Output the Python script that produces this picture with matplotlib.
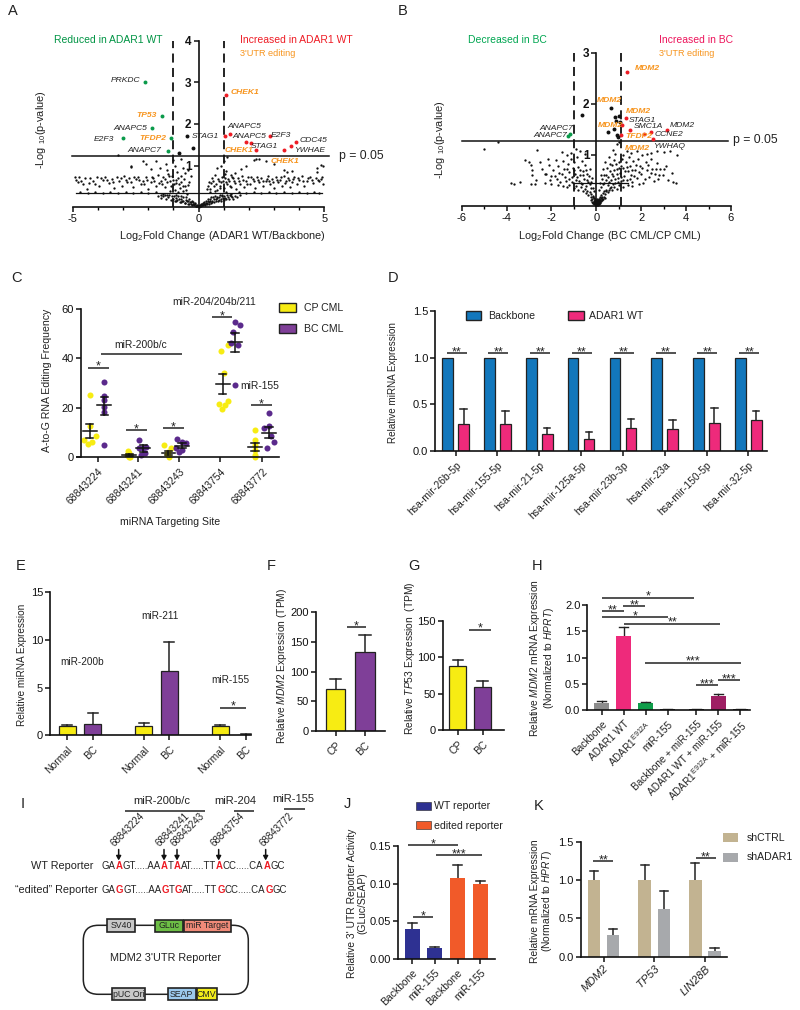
import matplotlib
matplotlib.use("Agg")
import matplotlib.pyplot as plt
from matplotlib.patches import Rectangle, FancyBboxPatch
import numpy as np

plt.rcParams['font.family'] = ['Liberation Sans', 'DejaVu Sans']
plt.rcParams['mathtext.fontset'] = 'custom'
plt.rcParams['mathtext.rm'] = 'Liberation Sans'
plt.rcParams['mathtext.it'] = 'Liberation Sans:italic'
plt.rcParams['mathtext.bf'] = 'Liberation Sans:bold'
plt.rcParams['mathtext.default'] = 'regular'
plt.rcParams['axes.unicode_minus'] = False

W, H = 800, 1010
TXT = '#222222'

# ---------- data ----------
a_green = [(-2.12, 3.0), (-1.46, 2.19), (-1.85, 1.9), (-3.02, 1.66), (-1.09, 1.66), (-1.23, 1.35)]
a_red = [(1.1, 2.7), (1.05, 1.72), (1.25, 1.76), (1.88, 1.57), (2.1, 1.55), (2.28, 1.37), (2.85, 1.72),
         (3.39, 1.38), (3.68, 1.46), (3.89, 1.56)]
a_black = [(-0.44, 1.7), (-0.2, 1.42), (-0.79, 1.31)]
a_cloud = [
    (-3.18, 1.25), (-2.7, 1.0), (-2.69, 0.96), (-2.2, 1.12), (-2.1, 1.03), (-1.9, 0.92), (-1.7, 1.1), (-1.55, 0.95),
    (-1.3, 1.05), (-1.25, 0.9), (-1.0, 1.13), (-0.95, 0.98), (-0.85, 0.85), (-0.7, 1.15), (-0.6, 0.95), (-0.55, 0.82),
    (-0.4, 0.9), (-0.3, 0.75), (0.75, 0.95), (0.9, 1.0), (1.0, 1.1), (1.1, 0.88), (1.15, 1.2), (1.05, 0.8), (1.3, 0.78),
    (1.45, 0.82), (1.7, 0.93), (1.9, 1.0), (2.2, 1.14), (2.3, 1.17), (2.4, 1.15), (2.7, 1.1), (3.0, 1.05), (3.4, 0.9),
    (3.5, 0.85), (3.7, 0.88), (4.7, 0.95), (4.85, 1.02), (4.95, 1.0), (4.7, 0.85),
    (-4.9, 0.72), (-4.8, 0.6), (-4.75, 0.72), (-4.6, 0.55), (-4.45, 0.45), (-4.3, 0.7), (-4.2, 0.62), (-4.05, 0.72),
    (-3.95, 0.5), (-3.8, 0.66), (-3.7, 0.73), (-3.55, 0.58), (-3.45, 0.68), (-3.35, 0.46), (-3.25, 0.72), (-3.15, 0.62),
    (-3.05, 0.52), (-2.95, 0.74), (-2.85, 0.6), (-2.75, 0.7), (-2.6, 0.48), (-2.5, 0.67), (-2.4, 0.73), (-2.3, 0.57),
    (-2.2, 0.64), (-2.1, 0.72), (-2.0, 0.45), (-1.9, 0.6), (-1.8, 0.7), (-1.7, 0.52), (-1.62, 0.78), (-1.5, 0.64),
    (-1.42, 0.72), (-1.35, 0.48), (-1.25, 0.6), (-1.18, 0.75), (-1.1, 0.52), (-1.02, 0.66), (-0.95, 0.42), (-0.9, 0.58),
    (-0.82, 0.7), (-0.75, 0.46), (-0.68, 0.6), (-0.6, 0.38), (-0.52, 0.5), (-0.45, 0.32), (-0.38, 0.6), (0.32, 0.45),
    (0.4, 0.6), (0.46, 0.36), (0.52, 0.7), (0.6, 0.5), (0.66, 0.78), (0.72, 0.42), (0.8, 0.62), (0.86, 0.52),
    (0.94, 0.72), (1.02, 0.46), (1.1, 0.6), (1.16, 0.68), (1.24, 0.52), (1.32, 0.72), (1.4, 0.62), (1.48, 0.45),
    (1.56, 0.7), (1.65, 0.56), (1.72, 0.74), (1.8, 0.48), (1.88, 0.63), (1.96, 0.72), (2.05, 0.55), (2.15, 0.68),
    (2.25, 0.46), (2.32, 0.73), (2.42, 0.6), (2.5, 0.7), (2.58, 0.5), (2.68, 0.64), (2.76, 0.74), (2.85, 0.56),
    (2.92, 0.68), (3.0, 0.47), (3.08, 0.72), (3.16, 0.6), (3.25, 0.66), (3.32, 0.52), (3.4, 0.74), (3.48, 0.62),
    (3.56, 0.7), (3.65, 0.48), (3.72, 0.6), (3.8, 0.72), (3.9, 0.55), (4.0, 0.66), (4.1, 0.74), (4.2, 0.5),
    (4.3, 0.62), (4.42, 0.72), (4.55, 0.58), (4.68, 0.7), (4.8, 0.62), (4.92, 0.73), (4.95, 0.56),
    (-4.7, 0.36), (-4.4, 0.35), (-4.1, 0.37), (-3.8, 0.35), (-3.5, 0.36), (-3.2, 0.34), (-2.9, 0.37), (-2.6, 0.35),
    (-2.3, 0.36), (-2.0, 0.34), (-1.7, 0.37), (-1.4, 0.33), (-1.15, 0.38), (-0.9, 0.3), (-0.8, 0.36), (-0.7, 0.26),
    (1.1, 0.36), (1.3, 0.33), (1.6, 0.37), (1.9, 0.35), (2.2, 0.36), (2.5, 0.34), (2.8, 0.37), (3.1, 0.35),
    (3.4, 0.36), (3.7, 0.34), (4.0, 0.37), (4.3, 0.35), (4.6, 0.36), (4.8, 0.34),
    (-1.6, 0.27), (-1.5, 0.22), (-1.4, 0.26), (-1.3, 0.2), (-1.25, 0.29), (-1.2, 0.24), (-1.1, 0.18), (-1.05, 0.27),
    (-1.0, 0.21), (-0.95, 0.15), (-0.9, 0.23), (-0.85, 0.18), (-0.8, 0.28), (-0.75, 0.13), (-0.7, 0.2), (-0.65, 0.16),
    (-0.6, 0.24), (-0.55, 0.11), (-0.5, 0.18), (-0.45, 0.14), (-0.42, 0.09), (-0.38, 0.21), (-0.34, 0.12), (-0.3, 0.07),
    (-0.26, 0.16), (-0.22, 0.09), (-0.18, 0.05), (-0.14, 0.1), (-0.1, 0.04), (-0.06, 0.06), (-0.03, 0.02), (0.0, 0.01),
    (0.03, 0.03), (0.06, 0.05), (0.1, 0.03), (0.14, 0.08), (0.18, 0.06), (0.22, 0.12), (0.26, 0.08), (0.3, 0.14),
    (0.34, 0.1), (0.38, 0.2), (0.42, 0.12), (0.46, 0.16), (0.5, 0.24), (0.55, 0.13), (0.6, 0.19), (0.65, 0.28),
    (0.7, 0.15), (0.75, 0.22), (0.8, 0.17), (0.85, 0.3), (0.9, 0.2), (0.95, 0.26), (1.0, 0.18), (1.05, 0.23),
    (1.12, 0.29), (1.2, 0.21), (1.28, 0.26), (1.36, 0.2), (1.45, 0.28), (1.55, 0.24), (1.65, 0.3),
    (-4.85, 0.66), (-4.68, 0.64), (-4.52, 0.71), (-4.36, 0.58), (-4.12, 0.55), (-3.88, 0.71), (-3.62, 0.65), (-3.38, 0.6),
    (-3.1, 0.7), (-2.9, 0.66), (-2.68, 0.6), (-2.55, 0.72), (-2.35, 0.65), (-2.15, 0.55), (-2.05, 0.65), (-1.85, 0.73),
    (-1.75, 0.62), (-1.58, 0.58), (-1.45, 0.55), (-1.32, 0.68), (-1.22, 0.8), (-1.12, 0.64), (-1.05, 0.74), (-0.98, 0.55),
    (-0.88, 0.66), (-0.78, 0.55), (-0.7, 0.76), (-0.62, 0.52), (-0.56, 0.68), (-0.48, 0.42), (-0.42, 0.54), (0.36, 0.52),
    (0.44, 0.44), (0.5, 0.58), (0.56, 0.62), (0.64, 0.4), (0.7, 0.56), (0.76, 0.68), (0.84, 0.46), (0.9, 0.6),
    (0.98, 0.64), (1.06, 0.7), (1.14, 0.55), (1.22, 0.64), (1.3, 0.48), (1.38, 0.7), (1.46, 0.58), (1.6, 0.64),
    (1.76, 0.66), (1.92, 0.56), (2.1, 0.73), (2.2, 0.62), (2.38, 0.66), (2.55, 0.62), (2.72, 0.68), (2.82, 0.64),
    (2.96, 0.6), (3.12, 0.66), (3.28, 0.72), (3.44, 0.58), (3.6, 0.66), (3.76, 0.68), (3.95, 0.7), (4.15, 0.64),
    (4.35, 0.7), (4.5, 0.66), (4.74, 0.66), (4.88, 0.68),
    (-1.48, 0.3), (-1.35, 0.3), (-1.18, 0.3), (-0.98, 0.28), (-0.88, 0.14), (-0.78, 0.2), (-0.68, 0.12), (-0.62, 0.16),
    (-0.52, 0.1), (-0.48, 0.24), (-0.4, 0.16), (-0.36, 0.09), (-0.28, 0.12), (-0.24, 0.05), (-0.2, 0.12), (-0.16, 0.07),
    (-0.12, 0.07), (-0.08, 0.03), (-0.04, 0.04), (0.01, 0.03), (0.05, 0.02), (0.08, 0.07), (0.12, 0.05), (0.16, 0.1),
    (0.2, 0.09), (0.24, 0.05), (0.28, 0.11), (0.32, 0.07), (0.36, 0.14), (0.4, 0.09), (0.44, 0.2), (0.48, 0.11),
    (0.52, 0.16), (0.58, 0.25), (0.62, 0.13), (0.68, 0.19), (0.72, 0.25), (0.78, 0.14), (0.82, 0.24), (0.88, 0.16),
    (0.92, 0.29), (0.98, 0.22), (1.02, 0.28), (1.08, 0.19), (1.16, 0.25), (1.24, 0.3), (1.32, 0.24),
]

b_green = [(-1.19, 1.4), (-1.25, 1.37)]
b_red = [(1.38, 2.63), (1.34, 1.71), (1.16, 1.58), (1.52, 1.48), (2.42, 1.45), (3.16, 1.48), (2.53, 1.31),
         (1.11, 1.39), (2.12, 1.4)]
b_black = [(0.64, 1.92), (-0.65, 1.77), (0.82, 1.73), (1.0, 1.75), (0.79, 1.5), (0.53, 1.44), (0.91, 1.39),
           (0.95, 1.35), (1.05, 1.65), (0.89, 1.67)]
b_cloud = [
    (-5.0, 1.12), (-4.37, 1.24), (-2.63, 1.1), (-1.55, 1.05), (-1.3, 1.0), (-1.15, 1.03), (-0.9, 1.12), (-0.75, 1.08),
    (-0.5, 1.02), (0.75, 1.1), (0.85, 1.02), (0.9, 1.2), (1.0, 1.25), (1.2, 1.0), (1.35, 1.08), (1.55, 1.03),
    (1.8, 1.07), (2.05, 1.0), (2.25, 1.02), (2.45, 1.04), (2.7, 1.08), (3.0, 1.05), (3.3, 1.08), (3.6, 1.0),
    (-3.2, 0.89), (-3.0, 0.85), (-2.9, 0.8), (-2.85, 0.7), (-2.85, 0.6), (-2.7, 0.5), (-2.5, 0.85), (-2.4, 0.72),
    (-2.25, 0.62), (-2.15, 0.92), (-2.1, 0.8), (-2.05, 0.5), (-1.95, 0.7), (-1.85, 0.58), (-1.8, 0.9), (-1.7, 0.78),
    (-1.65, 0.64), (-1.6, 0.46), (-1.5, 0.88), (-1.45, 0.72), (-1.4, 0.56), (-1.35, 0.48), (-1.25, 0.82), (-1.2, 0.66),
    (-1.15, 0.92), (-1.1, 0.56), (-1.05, 0.74), (-1.0, 0.86), (-0.95, 0.62), (-0.9, 0.5), (-0.85, 0.96), (-0.8, 0.76),
    (-0.75, 0.6), (-0.7, 0.44), (-0.65, 0.88), (-0.6, 0.68), (-0.55, 0.52), (-0.5, 0.8), (-0.45, 0.38), (-0.4, 0.62),
    (-0.35, 0.46), (-0.3, 0.72), (-0.25, 0.34), (-0.2, 0.55), (0.2, 0.36), (0.25, 0.52), (0.3, 0.72), (0.35, 0.44),
    (0.4, 0.85), (0.45, 0.6), (0.5, 0.4), (0.55, 0.95), (0.6, 0.68), (0.65, 0.5), (0.7, 0.8), (0.75, 0.58),
    (0.8, 0.9), (0.85, 0.44), (0.9, 0.72), (0.95, 0.55), (1.0, 0.85), (1.05, 0.65), (1.1, 0.48), (1.15, 0.92),
    (1.2, 0.74), (1.25, 0.58), (1.3, 0.86), (1.35, 0.5), (1.4, 0.68), (1.45, 0.95), (1.5, 0.78), (1.55, 0.6),
    (1.6, 0.46), (1.65, 0.88), (1.7, 0.7), (1.8, 0.54), (1.85, 0.92), (1.95, 0.78), (2.0, 0.62), (2.1, 0.45),
    (2.2, 0.85), (2.25, 0.7), (2.35, 0.56), (2.45, 0.92), (2.5, 0.72), (2.6, 0.62), (2.7, 0.84), (2.75, 0.52),
    (2.85, 0.72), (2.95, 0.6), (3.1, 0.78), (3.2, 0.5), (3.35, 0.65), (3.4, 0.46), (3.55, 0.44),
    (-3.8, 0.45), (-3.65, 0.42), (-3.4, 0.47), (-2.9, 0.43), (-2.75, 0.43), (-2.3, 0.44), (-2.0, 0.42), (-1.7, 0.4),
    (-1.5, 0.38), (-1.3, 0.36), (-1.2, 0.41), (-1.0, 0.34), (-0.9, 0.39), (-0.8, 0.3), (-0.7, 0.36), (-0.6, 0.28),
    (-0.5, 0.33), (-0.45, 0.24), (-0.4, 0.29), (-0.35, 0.21), (-0.3, 0.26), (-0.25, 0.17), (-0.22, 0.23), (-0.18, 0.13),
    (-0.15, 0.19), (-0.12, 0.09), (-0.1, 0.15), (-0.07, 0.06), (-0.05, 0.11), (-0.02, 0.03), (0.0, 0.01), (0.0, 0.07),
    (0.02, 0.04), (0.05, 0.1), (0.07, 0.05), (0.1, 0.13), (0.12, 0.08), (0.15, 0.17), (0.18, 0.11), (0.2, 0.2),
    (0.25, 0.14), (0.28, 0.24), (0.32, 0.18), (0.35, 0.28), (0.4, 0.22), (0.45, 0.31), (0.5, 0.26), (0.6, 0.34),
    (0.7, 0.3), (0.8, 0.37), (0.9, 0.33), (1.0, 0.4), (1.2, 0.36), (1.4, 0.4), (1.6, 0.38), (1.9, 0.42),
    (-0.16, 0.05), (-0.11, 0.03), (-0.08, 0.12), (-0.04, 0.08), (-0.03, 0.05), (-0.01, 0.1), (0.01, 0.02), (0.03, 0.08),
    (0.04, 0.13), (0.06, 0.02), (0.08, 0.1), (0.09, 0.04), (0.11, 0.06), (0.13, 0.03), (0.16, 0.06), (0.22, 0.09),
    (-2.3, 0.62), (-2.0, 0.58), (-1.75, 0.52), (-1.55, 0.62), (-1.3, 0.72), (-1.22, 0.52), (-1.08, 0.46), (-0.98, 0.7),
    (-0.88, 0.56), (-0.78, 0.48), (-0.72, 0.7), (-0.62, 0.42), (-0.58, 0.6), (-0.48, 0.7), (-0.42, 0.5), (-0.32, 0.58),
    (-0.28, 0.42), (-0.22, 0.46), (-0.15, 0.34), (-0.1, 0.28), (0.1, 0.3), (0.15, 0.44), (0.22, 0.6), (0.28, 0.42),
    (0.34, 0.6), (0.42, 0.5), (0.48, 0.74), (0.52, 0.56), (0.58, 0.46), (0.62, 0.82), (0.68, 0.62), (0.72, 0.42),
    (0.78, 0.7), (0.82, 0.52), (0.88, 0.82), (0.92, 0.62), (0.98, 0.46), (1.02, 0.74), (1.08, 0.56), (1.12, 0.78),
    (1.18, 0.5), (1.28, 0.68), (1.38, 0.76), (1.48, 0.52), (1.58, 0.7), (1.68, 0.58), (1.78, 0.8), (1.9, 0.66),
    (2.05, 0.74), (2.15, 0.52), (2.3, 0.8), (2.42, 0.64), (2.55, 0.48), (2.65, 0.72), (2.8, 0.6), (3.0, 0.72),
    (-0.24, 0.12), (-0.2, 0.08), (-0.17, 0.17), (-0.14, 0.06), (-0.09, 0.08), (-0.06, 0.13), (-0.03, 0.02), (-0.01, 0.05),
    (0.02, 0.09), (0.04, 0.03), (0.05, 0.06), (0.07, 0.11), (0.1, 0.07), (0.13, 0.1), (0.14, 0.14), (0.17, 0.08),
    (0.19, 0.15), (0.24, 0.11), (0.27, 0.17), (0.3, 0.13), (0.38, 0.16), (0.42, 0.28), (0.55, 0.3), (0.65, 0.36),
]

c_cp_x = [[-0.2, -0.34, -0.24, -0.14, -0.04, -0.2],
          [0.74, 0.77, 0.77, 0.72, 0.79],
          [1.62, 1.78, 1.72, 1.74, 1.68],
          [3.0, 3.16, 3.06, 3.18, 2.94, 3.1, 3.02],
          [3.83, 3.83, 3.83, 3.83, 3.83, 3.83]]
c_cp_y = [[25.2, 7, 5.4, 6, 8.8, 12.8],
          [2.7, 1.6, 0.3, 1, 0],
          [4.9, 3.6, 2.3, 0.3, 1.3],
          [42.9, 45.4, 34, 22.8, 21.6, 21.2, 19.4],
          [11, 7, 3, 1, 0, 5]]
c_bc_x = [[0.16, 0.16, 0.16, 0.16, 0.16, 0.16],
          [1.0, 1.0, 1.18, 1.14, 1.06, 1.1],
          [1.92, 2.06, 2.14, 1.9, 1.98, 2.04],
          [3.34, 3.46, 3.28, 3.24, 3.4, 3.34],
          [4.17, 4.05, 4.17, 4.22, 4.28, 4.11]]
c_bc_y = [[30.3, 24.8, 23.2, 18.5, 5, 20.5],
          [7, 3.6, 4.3, 1.9, 1, 3.6],
          [7.3, 6.3, 5.7, 3.6, 2.3, 3],
          [54.7, 53.5, 50.5, 46.4, 45.3, 29.1],
          [18, 12, 12.8, 8.8, 6, 3.6]]
c_cp_mean = [10.6, 1.0, 1.6, 29.6, 4.0]
c_cp_hi = [13.3, 1.4, 2.5, 33.7, 5.7]
c_cp_lo = [8.0, 0.6, 0.9, 25.5, 2.6]
c_bc_mean = [21.0, 3.6, 4.6, 46.6, 10.0]
c_bc_hi = [24.5, 5.0, 5.6, 50.4, 12.4]
c_bc_lo = [17.0, 2.3, 3.6, 42.7, 8.0]
c_cp_center = [-0.2, 0.77, 1.72, 3.04, 3.83]
c_bc_center = [0.16, 1.11, 2.05, 3.34, 4.17]
c_tick_pos = [0, 0.98, 1.98, 2.98, 4.0]
c_sites = ['68843224', '68843241', '68843243', '68843754', '68843772']

d_labels = ['hsa-mir-26b-5p', 'hsa-mir-155-5p', 'hsa-mir-21-5p', 'hsa-mir-125a-5p', 'hsa-mir-23b-3p',
            'hsa-mir-23a', 'hsa-mir-150-5p', 'hsa-mir-32-5p']
d_backbone = [1, 1, 1, 1, 1, 1, 1, 1]
d_adar = [0.29, 0.295, 0.185, 0.135, 0.25, 0.235, 0.305, 0.335]
d_adar_top = [0.45, 0.43, 0.25, 0.21, 0.345, 0.33, 0.46, 0.435]

e_labels = ['Normal', 'BC', 'Normal', 'BC', 'Normal', 'BC']
e_pos = [1, 2, 4, 5, 7, 8]
e_vals = [1.0, 1.2, 1.0, 6.7, 1.0, 0.05]
e_tops = [1.1, 2.4, 1.3, 9.8, 1.06, 0.1]

f_vals = [71, 133]
f_tops = [87, 161]
g_vals = [88, 59]
g_tops = [97, 68]

h_labels = ['Backbone', 'ADAR1 WT', 'ADAR1$^{E912A}$', 'miR-155', 'Backbone + miR-155', 'ADAR1 WT + miR-155',
            'ADAR1$^{E912A}$ + miR-155']
h_pos = [0, 1, 2, 3, 4.3, 5.3, 6.3]
h_vals = [0.14, 1.41, 0.14, 0.01, 0.01, 0.27, 0.01]
h_tops = [0.18, 1.58, 0.155, 0.02, 0.02, 0.3, 0.02]
h_cols = ['#8C8C8C', '#EE2A7B', '#0F9D4A', '#222222', '#222222', '#9E1F63', '#222222']

j_labels = ['Backbone', 'miR-155', 'Backbone', 'miR-155']
j_vals = [0.039, 0.014, 0.107, 0.099]
j_tops = [0.047, 0.015, 0.125, 0.104]

k_labels = ['MDM2', 'TP53', 'LIN28B']
k_ctrl = [1, 1, 1]
k_ctrl_top = [1.12, 1.2, 1.23]
k_sh = [0.28, 0.62, 0.07]
k_sh_top = [0.36, 0.86, 0.11]

fig = plt.figure(figsize=(W / 100, H / 100), dpi=100)

def panel(l, t, r, b):
    ax = fig.add_axes([l / W, 1 - b / H, (r - l) / W, (b - t) / H])
    ax.patch.set_alpha(0)
    for s in ['top', 'right']:
        ax.spines[s].set_visible(False)
    for s in ['left', 'bottom']:
        ax.spines[s].set_linewidth(1.2)
        ax.spines[s].set_color('#111111')
    ax.tick_params(width=1.1, length=3.5, labelsize=8, pad=1.5, colors='#111111')
    return ax

def bars_with_err(ax, pos, vals, tops, cols, width):
    ax.bar(pos, vals, width=width, color=cols, edgecolor='#222222', linewidth=0.9, zorder=2)
    for p, v, t in zip(pos, vals, tops):
        ax.plot([p, p], [v, t], color='#222222', lw=1.1, zorder=1, clip_on=False)
        ax.plot([p - width * 0.3, p + width * 0.3], [t, t], color='#222222', lw=1.1, clip_on=False)

def rot_labels(ax, labels, size=7.5):
    ax.set_xticklabels(labels, rotation=45, ha='right', rotation_mode='anchor', fontsize=size, color=TXT)
    ax.tick_params(axis='x', pad=3)

# ---------- A ----------
ax = panel(72.7, 40.7, 324.3, 207.3)
ax.set_xlim(-5, 5)
ax.set_ylim(0, 4)
ax.spines['left'].set_position(('data', 0))
cx, cy = zip(*a_cloud)
ax.scatter(cx, cy, s=2.8, c='#111111', linewidths=0, clip_on=False)
for pts, col in [(a_green, '#0A9A4A'), (a_red, '#EE1C25'), (a_black, '#111111')]:
    px, py = zip(*pts)
    ax.scatter(px, py, s=8, c=col, linewidths=0, zorder=4)
ax.set_xticks([-5, 0, 5])
ax.set_xticks([-4, -3, -2, -1, 1, 2, 3, 4], minor=True)
ax.tick_params(axis='x', which='minor', width=1.0, length=2.5)
ax.set_yticks([1, 2, 3, 4])
ax.tick_params(axis='y', labelsize=8.5)
for lab in ax.get_yticklabels():
    lab.set_fontweight('bold')
ax.plot([-5.03, 5.2], [1.24, 1.24], color='#111111', lw=1.1, clip_on=False)
ax.plot([-4.85, 4.9], [0.35, 0.35], color='#111111', lw=0.9)
for x in [-1, 1]:
    ax.plot([x, x], [0, 4], color='#111111', lw=1.3, ls=(0, (5, 3)), clip_on=False)

# ---------- B ----------
ax = panel(461.7, 52.7, 731, 205.7)
ax.set_xlim(-6, 6)
ax.set_ylim(0, 3)
ax.spines['left'].set_position(('data', 0))
cx, cy = zip(*b_cloud)
ax.scatter(cx, cy, s=2.8, c='#111111', linewidths=0)
for pts, col in [(b_green, '#0A9A4A'), (b_red, '#EE1C25'), (b_black, '#111111')]:
    px, py = zip(*pts)
    ax.scatter(px, py, s=8, c=col, linewidths=0, zorder=4)
ax.set_xticks([-6, -4, -2, 0, 2, 4, 6])
ax.set_xticks([-5, -3, -1, 1, 3, 5], minor=True)
ax.tick_params(axis='x', which='minor', width=1.0, length=2.5)
ax.set_yticks([1, 2, 3])
ax.tick_params(axis='y', labelsize=8.5)
for lab in ax.get_yticklabels():
    lab.set_fontweight('bold')
ax.plot([-6, 5.85], [1.27, 1.27], color='#111111', lw=1.1, clip_on=False)
ax.plot([-1.05, 1.4], [0.45, 0.45], color='#111111', lw=0.9)
for x in [-1, 1.08]:
    ax.plot([x, x], [0, 3], color='#111111', lw=1.3, ls=(0, (5, 3)), clip_on=False)

# ---------- C ----------
ax = panel(81, 309, 279, 457.3)
ax.set_xlim(-0.41, 4.41)
ax.set_ylim(0, 60)
for xs, ys in zip(c_cp_x, c_cp_y):
    ax.scatter(xs, ys, s=19, c='#F7EC13', linewidths=0, clip_on=False, zorder=2)
for xs, ys in zip(c_bc_x, c_bc_y):
    ax.scatter(xs, ys, s=19, c='#5B2A8C', linewidths=0, clip_on=False, zorder=2)
for cen, m, hi, lo in [(c_cp_center, c_cp_mean, c_cp_hi, c_cp_lo), (c_bc_center, c_bc_mean, c_bc_hi, c_bc_lo)]:
    for x, mm, h, l in zip(cen, m, hi, lo):
        ax.plot([x, x], [l, h], color='#111111', lw=1.1, zorder=3)
        ax.plot([x - 0.17, x + 0.17], [mm, mm], color='#111111', lw=1.1, zorder=3)
        ax.plot([x - 0.09, x + 0.09], [h, h], color='#111111', lw=1.1, zorder=3)
        ax.plot([x - 0.09, x + 0.09], [l, l], color='#111111', lw=1.1, zorder=3)
ax.set_xticks(c_tick_pos)
rot_labels(ax, c_sites)
ax.set_yticks([0, 20, 40, 60])
ax.spines['bottom'].set_bounds(-0.5, 4.41)

# ---------- D ----------
ax = panel(435, 310.7, 766.7, 451.3)
ax.set_xlim(-0.495, 7.44)
ax.set_ylim(0, 1.5)
dpos = np.arange(8)
ax.bar(dpos - 0.19, d_backbone, width=0.255, color='#1277BC', edgecolor='#222222', linewidth=0.9, zorder=2)
bars_with_err(ax, dpos + 0.19, d_adar, d_adar_top, '#EE2A7B', 0.255)
ax.set_xticks(dpos)
rot_labels(ax, d_labels)
ax.set_yticks([0, 0.5, 1.0, 1.5])
ax.set_yticklabels(['0.0', '0.5', '1.0', '1.5'])

# ---------- E ----------
ax = panel(50, 592.3, 251, 735.4)
ax.set_xlim(0.33, 8.2)
ax.set_ylim(0, 15)
bars_with_err(ax, e_pos, e_vals, e_tops, ['#F7EC13', '#7F3F98'] * 3, 0.667)
ax.set_xticks(e_pos)
rot_labels(ax, e_labels)
ax.set_yticks([0, 5, 10, 15])

# ---------- F ----------
ax = panel(316, 612.3, 385, 731)
ax.set_xlim(-0.27, 1.52)
ax.set_ylim(0, 200)
bars_with_err(ax, [0.24, 1.0], f_vals, f_tops, ['#F7EC13', '#7F3F98'], 0.5)
ax.set_xticks([0.24, 1.0])
rot_labels(ax, ['CP', 'BC'])
ax.set_yticks([0, 50, 100, 150, 200])

# ---------- G ----------
ax = panel(443, 621, 504, 730)
ax.set_xlim(-0.6, 1.87)
ax.set_ylim(0, 150)
bars_with_err(ax, [0, 1], g_vals, g_tops, ['#F7EC13', '#7F3F98'], 0.7)
ax.set_xticks([0, 1])
rot_labels(ax, ['CP', 'BC'])
ax.set_yticks([0, 50, 100, 150])

# ---------- H ----------
ax = panel(587.3, 605, 750, 710)
ax.set_xlim(-0.65, 6.74)
ax.set_ylim(0, 2)
ax.bar(h_pos, h_vals, width=0.67, color=h_cols, zorder=2)
for p, v, top in zip(h_pos, h_vals, h_tops):
    ax.plot([p, p], [v, top], color='#222222', lw=1.0, zorder=1)
    ax.plot([p - 0.2, p + 0.2], [top, top], color='#222222', lw=1.0)
ax.set_xticks(h_pos)
rot_labels(ax, h_labels, 7.2)
ax.set_yticks([0, 0.5, 1.0, 1.5, 2.0])
ax.set_yticklabels(['0.0', '0.5', '1.0', '1.5', '2.0'])

# ---------- J ----------
ax = panel(397.7, 846, 495, 958.7)
ax.set_xlim(-0.65, 3.66)
ax.set_ylim(0, 0.15)
ax.bar(range(4), j_vals, width=0.66, color=['#2E3192', '#2E3192', '#F15A29', '#F15A29'], zorder=2)
for p, v, top in zip(range(4), j_vals, j_tops):
    ax.plot([p, p], [v, top], color='#222222', lw=1.1, zorder=1)
    ax.plot([p - 0.2, p + 0.2], [top, top], color='#222222', lw=1.1)
ax.set_xticks(range(4))
rot_labels(ax, j_labels)
ax.set_yticks([0, 0.05, 0.10, 0.15])
ax.set_yticklabels(['0.00', '0.05', '0.10', '0.15'])

# ---------- K ----------
ax = panel(580.7, 842, 726.7, 956.7)
ax.set_xlim(-0.45, 2.43)
ax.set_ylim(0, 1.5)
kpos = np.arange(3)
for off, vals, tops, col in [(-0.19, k_ctrl, k_ctrl_top, '#C2B391'), (0.19, k_sh, k_sh_top, '#A7A9AC')]:
    ax.bar(kpos + off, vals, width=0.25, color=col, zorder=2)
    for p, v, top in zip(kpos + off, vals, tops):
        ax.plot([p, p], [v, top], color='#222222', lw=1.1, zorder=1)
        ax.plot([p - 0.08, p + 0.08], [top, top], color='#222222', lw=1.1)
ax.set_xticks(kpos)
ax.set_xticklabels(k_labels, rotation=45, ha='right', rotation_mode='anchor', fontsize=8, style='italic', color=TXT)
ax.set_yticks([0, 0.5, 1.0, 1.5])
ax.set_yticklabels(['0.0', '0.5', '1.0', '1.5'])

# ---------- overlay in figure pixels: texts, significance bars, schematic ----------
ov = fig.add_axes([0, 0, 1, 1], zorder=10)
ov.set_xlim(0, W)
ov.set_ylim(H, 0)
ov.axis('off')

def t(x, y, s, size=7.4, color=TXT, ha='center', va='center', **kw):
    return ov.text(x, y, s, fontsize=size, color=color, ha=ha, va=va, **kw)

def sig(x0, x1, y, stars='*', lw=1.1):
    ov.plot([x0, x1], [y, y], color='#222222', lw=lw, solid_capstyle='butt')
    if stars:
        t((x0 + x1) / 2, y - 1.0, stars, size=9, va='center')

def swatch(x0, x1, y0, y1, col, lw=1.0):
    ov.add_patch(Rectangle((x0, y0), x1 - x0, y1 - y0, facecolor=col, edgecolor='#222222', linewidth=lw))

for s, x, y in [('A', 13, 11), ('B', 403, 11), ('C', 17, 278), ('D', 393, 278), ('E', 21, 566), ('F', 271, 566),
                ('G', 414, 566), ('H', 537, 566), ('I', 23, 804), ('J', 347, 804), ('K', 539, 806)]:
    t(x, y, s, size=10.5)

ORANGE = '#F7941D'
GREEN = '#009444'
# A labels
t(108.7, 40, 'Reduced in ADAR1 WT', 7.5, GREEN)
t(296, 40, 'Increased in ADAR1 WT', 7.5, '#EE1C25')
t(268, 54, "3'UTR editing", 6.6, ORANGE)
t(339, 155.7, 'p = 0.05', 8.8, ha='left')
t(40.7, 130, '-Log $_{10}$(p-value)', 7.9, rotation=90)
t(222.7, 236, 'Log$_2$Fold Change (ADAR1 WT/Backbone)', 7.9)
for s, zx, zy in [('PRKDC', 378, 242), ('ANAPC5', 390, 384), ('E2F3', 312, 418), ('ANAPC7', 433, 452), ('STAG1', 617, 408),
                  ('ANAPC5', 733, 378), ('ANAPC5', 748, 411), ('E2F3', 842, 406), ('CDC45', 940, 422), ('STAG1', 792, 438),
                  ('YWHAE', 928, 452)]:
    t(zx / 3, zy / 3, s, 6.1, style='italic')
for s, zx, zy in [('TP53', 440, 346), ('TFDP2', 460, 416), ('CHEK1', 736, 276), ('CHEK1', 716, 453), ('CHEK1', 855, 484)]:
    t(zx / 3, zy / 3, s, 6.1, ORANGE, style='italic', fontweight='bold')

# B labels
t(507, 40, 'Decreased in BC', 7.5, '#00A651')
t(696, 40, 'Increased in BC', 7.5, '#ED145B')
t(687, 54, "3'UTR editing", 6.6, ORANGE)
t(732.7, 140, 'p = 0.05', 8.8, ha='left')
t(440, 140, '-Log $_{10}$(p-value)', 7.9, rotation=90)
t(610, 236, 'Log$_2$Fold Change (BC CML/CP CML)', 7.9)
for s, zx, zy in [('STAG1', 728, 362), ('SMC1A', 745, 380), ('MDM2', 847, 377), ('ANAPC7', 470, 384), ('ANAPC7', 450, 406),
                  ('CCNE2', 806, 403), ('YWHAQ', 806, 440)]:
    t(400 + zx / 3, zy / 3, s, 6.1, style='italic')
for s, zx, zy in [('MDM2', 741, 207), ('MDM2', 627, 303), ('MDM2', 714, 334), ('MDM2', 630, 377), ('TFDP2', 717, 408),
                  ('MDM2', 712, 444)]:
    t(400 + zx / 3, zy / 3, s, 6.1, ORANGE, style='italic', fontweight='bold')

# C labels
t(46.7, 380, 'A-to-G RNA Editing Frequency', 7.6, rotation=90)
t(170, 521.7, 'miRNA Targeting Site', 7.6)
t(214, 302, 'miR-204/204b/211', 7.4)
t(140.7, 344.7, 'miR-200b/c', 7.4)
t(240, 386, 'miR-155', 7.4, ha='left')
sig(100.7, 181.7, 354.3, None)
for zx0, zx1, zy in [(264, 327, 323), (377, 440, 510), (488, 552, 505), (637, 697, 171), (753, 816, 435)]:
    sig(zx0 / 3, zx1 / 3, 260 + zy / 3)
swatch(279.3, 295.7, 303, 312.3, '#F7EC13')
swatch(279.3, 295.7, 324, 333.3, '#7F3F98')
t(304, 308, 'CP CML', 7.6, ha='left')
t(304, 328.5, 'BC CML', 7.6, ha='left')

# D labels
t(393, 383, 'Relative miRNA Expression', 7.1, rotation=90)
for i in range(8):
    sig(400 + (140 + 125.4 * i) / 3, 400 + (200 + 125.4 * i) / 3, 353.3, '**')
swatch(465.7, 481.3, 310.7, 320, '#1277BC')
swatch(568.3, 584, 310.7, 320, '#EE2A7B')
t(487.7, 316, 'Backbone', 7.6, ha='left')
t(589, 316, 'ADAR1 WT', 7.6, ha='left')

# E labels
t(22, 665, 'Relative miRNA Expression', 7.2, rotation=90)
t(82, 662, 'miR-200b', 7.2)
t(160, 616, 'miR-211', 7.2)
t(230, 680, 'miR-155', 7.2)
sig(220, 246, 707.7)

# F, G, H labels
t(282, 666, r'Relative $\it{MDM2}$ Expression (TPM)', 7.4, rotation=90)
sig(347, 366, 627)
t(410, 658, r'Relative $\it{TP53}$ Expression  (TPM)', 7.4, rotation=90)
sig(468.7, 490.7, 629.7)
t(542, 658, 'Relative $\\it{MDM2}$ mRNA Expression\n(Normalized to $\\it{HPRT}$)', 7.4, rotation=90, linespacing=1.1,
  multialignment='center')
for zx0, zx1, zy, st in [(457, 733, 263, '*'), (520, 585, 288, '**'), (457, 521, 303, '**'), (457, 653, 321, '*'),
                         (523, 810, 341, '**'), (585, 872, 458, '***'), (738, 803, 526, '***'), (805, 870, 510, '***')]:
    sig(450 + zx0 / 3, 450 + zx1 / 3, 510 + zy / 3, st)

# I schematic
t(161.7, 801, 'miR-200b/c', 8)
t(235, 801, 'miR-204', 8)
t(293, 799, 'miR-155', 8)
for x0, x1, y in [(125, 205, 810.7), (234, 254.3, 810.7), (284, 305, 809.3)]:
    sig(x0, x1, y, None)
for s, zx in zip(c_sites, [350, 485, 530, 652, 797]):
    t(zx / 3 - 1, 740 + 325 / 3, s, 7, rotation=45, ha='left', va='bottom', rotation_mode='anchor')
for zx in [356, 492, 531, 656, 797]:
    ov.annotate('', xy=(zx / 3, 860.5), xytext=(zx / 3, 849.5),
                arrowprops=dict(arrowstyle='-|>,head_width=0.14,head_length=0.25', color='#111111', lw=1.1,
                                shrinkA=0, shrinkB=0))
t(30.7, 866, 'WT Reporter', 7.8, ha='left')
t(15, 890, '\u201cedited\u201d Reporter', 7.8, ha='left')

def seq(x, y, parts):
    r = fig.canvas.get_renderer()
    for s, red in parts:
        tx = t(x, y, s, 6.9, '#EE1C25' if red else TXT, ha='left', fontweight='bold' if red else 'normal')
        x += tx.get_window_extent(r).width

seq(101.7, 866.3, [('GA', 0), ('A', 1), ('GT.....AA', 0), ('A', 1), ('T', 0), ('A', 1), ('AT.....TT', 0), ('A', 1),
                   ('CC.....CA', 0), ('A', 1), ('GC', 0)])
seq(101.7, 890.3, [('GA', 0), ('G', 1), ('GT.....AA', 0), ('G', 1), ('T', 0), ('G', 1), ('AT.....TT', 0), ('G', 1),
                   ('CC.....CA', 0), ('G', 1), ('GC', 0)])

ov.add_patch(FancyBboxPatch((83.3, 925.3), 165, 69, boxstyle='round,pad=0,rounding_size=15', facecolor='none',
                            edgecolor='#222222', linewidth=1.1))
for zx0, zx1, zy0, zy1, col, s in [(322, 405, 538, 575, '#C8C8C8', 'SV40'), (466, 550, 540, 575, '#6DBE45', 'GLuc'),
                                   (553, 692, 540, 575, '#F08A78', 'miR Target'), (337, 435, 745, 780, '#C8C8C8', 'pUC Ori'),
                                   (503, 588, 745, 780, '#9CC9EC', 'SEAP'), (590, 650, 745, 780, '#F2EC1A', 'CMV')]:
    swatch(zx0 / 3, zx1 / 3, 740 + zy0 / 3, 740 + zy1 / 3, col, 1.2)
    t((zx0 + zx1) / 6, 740 + (zy0 + zy1) / 6, s, 6.3)
t(165.7, 958.3, "MDM2 3'UTR Reporter", 7.8)

# J labels
t(357, 903, "Relative 3' UTR Reporter Activity\n(GLuc/SEAP)", 7.4, rotation=90, linespacing=1.1, multialignment='center')
swatch(416, 430.7, 801.7, 810, '#2E3192', 0.4)
swatch(416, 430.7, 821, 829.3, '#F15A29', 0.4)
t(434, 805.7, 'WT reporter', 7.6, ha='left')
t(434, 825.7, 'edited reporter', 7.6, ha='left')
for zx0, zx1, zy, st in [(175, 325, 315, '*'), (258, 397, 345, '***'), (190, 250, 531, '*')]:
    sig(350 + zx0 / 3, 350 + zx1 / 3, 740 + zy / 3, st)

# K labels
t(542, 901, 'Relative mRNA Expression\n(Normalized to $\\it{HPRT}$)', 7.4, rotation=90, linespacing=1.1, multialignment='center')
swatch(723.3, 738.3, 833.3, 841.7, '#C2B391', 0)
swatch(723.3, 738.3, 853.3, 861.7, '#A7A9AC', 0)
t(747, 837.7, 'shCTRL', 7.6, ha='left')
t(747, 857.3, 'shADAR1', 7.6, ha='left')
for zx0, zx1, zy in [(730, 790, 363), (1037, 1097, 355)]:
    sig(350 + zx0 / 3, 350 + zx1 / 3, 740 + zy / 3, '**')

fig.savefig('out.png', dpi=100)
